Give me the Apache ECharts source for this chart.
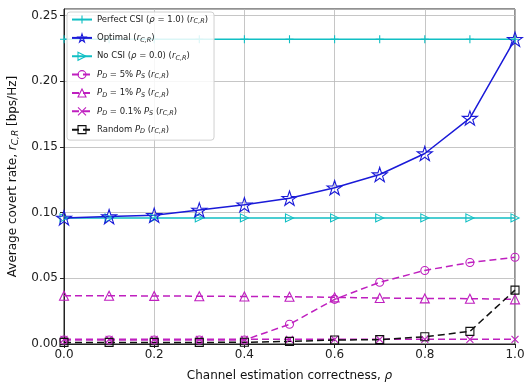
<!DOCTYPE html>
<html>
<head>
<meta charset="utf-8">
<script src="https://cdn.jsdelivr.net/npm/echarts@6/dist/echarts.min.js"></script>
<style>
  html, body { margin: 0; padding: 0; background: #fff; }
  #chart { width: 524px; height: 385px; }
</style>
</head>
<body>
<div id="chart"></div>
<script>
// Channel estimation correctness values on the x axis
const rho = [0.0, 0.1, 0.2, 0.3, 0.4, 0.5, 0.6, 0.7, 0.8, 0.9, 1.0];

// Average covert rate per scheme
const perfectCsi = [0.232, 0.232, 0.232, 0.232, 0.232, 0.232, 0.232, 0.232, 0.232, 0.232, 0.232];
const optimal    = [0.096, 0.097, 0.098, 0.102, 0.106, 0.111, 0.119, 0.129, 0.145, 0.172, 0.232];
const noCsi      = [0.096, 0.096, 0.096, 0.096, 0.096, 0.096, 0.096, 0.096, 0.096, 0.096, 0.096];
const pd5        = [0.003, 0.003, 0.003, 0.003, 0.003, 0.015, 0.034, 0.047, 0.056, 0.062, 0.066];
const pd1        = [0.0367, 0.0367, 0.0366, 0.0364, 0.0362, 0.036, 0.0355, 0.035, 0.0347, 0.0345, 0.034];
const pd01       = [0.0036, 0.0036, 0.0036, 0.0036, 0.0036, 0.0036, 0.0036, 0.0036, 0.0036, 0.0036, 0.0036];
const randomPd   = [0.0012, 0.0012, 0.0012, 0.0012, 0.0013, 0.002, 0.003, 0.0033, 0.0055, 0.0096, 0.041];

// Tick labels
const xTicks = ['0.0', '0.2', '0.4', '0.6', '0.8', '1.0'];
const yTicks = ['0.00', '0.05', '0.10', '0.15', '0.20', '0.25'];

const CYAN = '#10bfc4';
const BLUE = '#1a1ad8';
const MAG = '#bf1fbf';
const BLACK = '#111';
const FONT = 'DejaVu Sans';

const STAR = 'path://M0,-1L0.2245,-0.309L0.9511,-0.309L0.3633,0.118L0.5878,0.809L0,0.382L-0.5878,0.809L-0.3633,0.118L-0.9511,-0.309L-0.2245,-0.309Z';
const PLUS = 'path://M0,-1L0,1M-1,0L1,0';
const CROSS = 'path://M-1,-1L1,1M-1,1L1,-1';
const TRI_RIGHT = 'path://M-1,-1L1,0L-1,1Z';

function pairs(vals) { return rho.map((x, i) => [x, vals[i]]); }

const labels = {
  'Perfect CSI': 'Perfect CSI ({i|ρ} = 1.0) ({i|r}{sub|C,R})',
  'Optimal': 'Optimal ({i|r}{sub|C,R})',
  'No CSI': 'No CSI ({i|ρ} = 0.0) ({i|r}{sub|C,R})',
  'PD5': '{i|P}{sub|D} = 5% {i|P}{sub|S} ({i|r}{sub|C,R})',
  'PD1': '{i|P}{sub|D} = 1% {i|P}{sub|S} ({i|r}{sub|C,R})',
  'PD01': '{i|P}{sub|D} = 0.1% {i|P}{sub|S} ({i|r}{sub|C,R})',
  'Random': 'Random {i|P}{sub|D} ({i|r}{sub|C,R})'
};
const colors = { 'Perfect CSI': CYAN, 'Optimal': BLUE, 'No CSI': CYAN, 'PD5': MAG, 'PD1': MAG, 'PD01': MAG, 'Random': BLACK };

function series(name, vals, symbol, size, dashed) {
  const color = colors[name];
  return {
    name: name,
    type: 'line',
    data: pairs(vals),
    symbol: symbol,
    symbolSize: size,
    symbolKeepAspect: true,
    showAllSymbol: true,
    lineStyle: { color: color, width: 1.5, type: dashed ? [7, 4] : 'solid' },
    itemStyle: { color: 'rgba(255,255,255,0)', borderColor: color, borderWidth: 1.1 },
    emphasis: { disabled: true },
    animation: false
  };
}

const chart = echarts.init(document.getElementById('chart'));
chart.setOption({
  backgroundColor: '#fff',
  animation: false,
  grid: { left: 64, right: 9, top: 9, bottom: 41, outerBoundsMode: 'none', containLabel: false,
    show: true, borderColor: '#222', borderWidth: 1, backgroundColor: 'transparent' },
  xAxis: {
    type: 'value', min: 0, max: 1, interval: 0.2,
    name: 'Channel estimation correctness, {i|ρ}',
    nameLocation: 'middle', nameGap: 26,
    nameTextStyle: { fontFamily: FONT, fontSize: 12, color: '#111', rich: { i: { fontStyle: 'italic', fontFamily: FONT, fontSize: 12, color: '#111' } } },
    axisLine: { show: true, onZero: false, lineStyle: { color: '#222' } },
    axisTick: { show: true, inside: false, length: 4, lineStyle: { color: '#222' } },
    axisLabel: { fontFamily: FONT, fontSize: 12, color: '#222', margin: 5, formatter: v => xTicks[Math.round(v / 0.2)] },
    splitLine: { show: true, lineStyle: { color: '#b8b8b8', width: 0.8 } }
  },
  yAxis: {
    type: 'value', min: 0, max: 0.255, interval: 0.05,
    name: 'Average covert rate, {i|r}{sub|C,R} [bps/Hz]',
    nameLocation: 'middle', nameGap: 44,
    nameTextStyle: { fontFamily: FONT, fontSize: 12, color: '#111', rich: {
      i: { fontStyle: 'italic', fontFamily: FONT, fontSize: 12, color: '#111' },
      sub: { fontStyle: 'italic', fontFamily: FONT, fontSize: 9, color: '#111', padding: [6, 0, 0, 0] }
    } },
    axisLine: { show: true, lineStyle: { color: '#222' } },
    axisTick: { show: true, inside: false, length: 4, lineStyle: { color: '#222' } },
    axisLabel: { fontFamily: FONT, fontSize: 12, color: '#222', margin: 6, showMaxLabel: false,
      formatter: v => { const k = Math.round(v / 0.05); return k <= 5 && Math.abs(v - k * 0.05) < 1e-6 ? yTicks[k] : ''; } },
    splitLine: { show: true, lineStyle: { color: '#b8b8b8', width: 0.8 } }
  },
  legend: {
    orient: 'vertical', left: 67, top: 12,
    itemWidth: 20, itemHeight: 10, itemGap: 8.3,
    padding: [3, 6, 5, 4],
    backgroundColor: 'rgba(255,255,255,0.85)',
    borderColor: '#d0d0d0', borderWidth: 1, borderRadius: 3,
    selectedMode: false,
    formatter: name => labels[name],
    textStyle: { fontFamily: FONT, fontSize: 8.5, color: '#222', rich: {
      i: { fontStyle: 'italic', fontFamily: FONT, fontSize: 8.5, color: '#222' },
      sub: { fontStyle: 'italic', fontFamily: FONT, fontSize: 6.5, color: '#222', padding: [4, 0, 0, 0] }
    } },
    data: ['Perfect CSI', 'Optimal', 'No CSI', 'PD5', 'PD1', 'PD01', 'Random'].map(n => ({
      name: n,
      itemStyle: { color: 'rgba(255,255,255,0)', borderColor: colors[n], borderWidth: 1.1 }
    }))
  },
  series: [
    series('Perfect CSI', perfectCsi, PLUS, 8, false),
    series('No CSI', noCsi, TRI_RIGHT, 8, false),
    series('PD5', pd5, 'circle', 8, true),
    series('PD1', pd1, 'triangle', 9, true),
    series('PD01', pd01, CROSS, 7, true),
    series('Random', randomPd, 'rect', 8, true),
    series('Optimal', optimal, STAR, 15, false)
  ]
});
</script>
</body>
</html>
